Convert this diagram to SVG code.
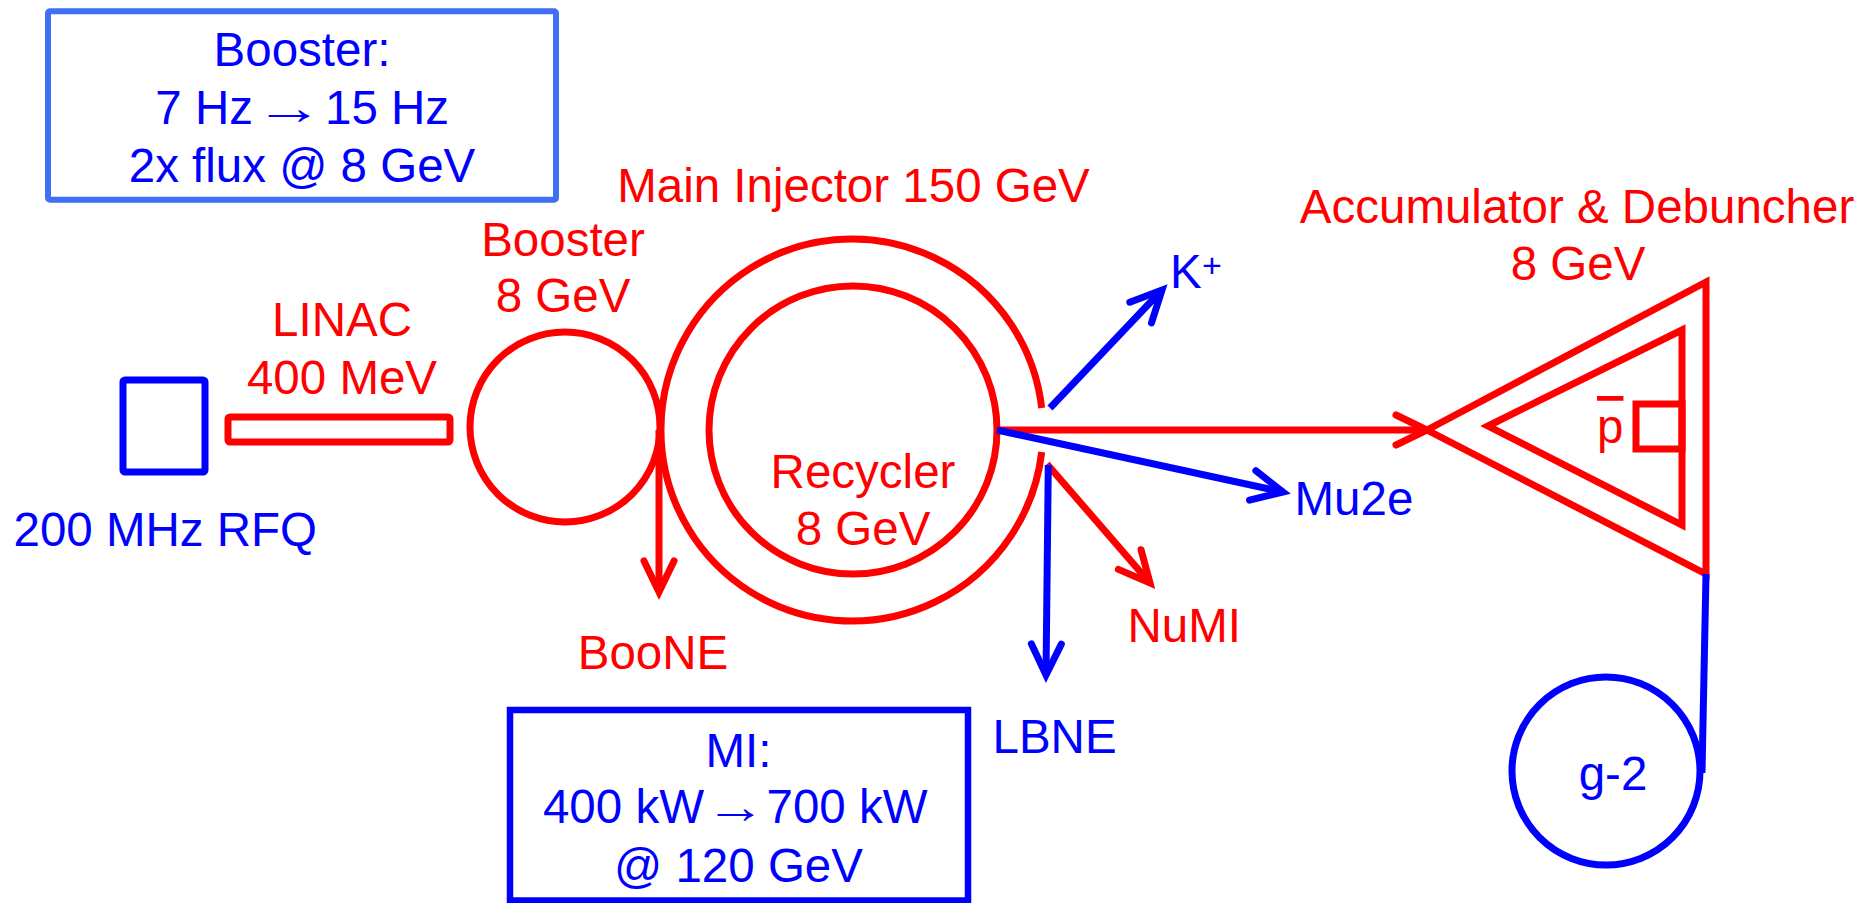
<svg xmlns="http://www.w3.org/2000/svg" width="1866" height="903" viewBox="0 0 1866 903">
<defs>
<style>
.r{stroke:#ff0000;fill:none;stroke-width:7}
.b{stroke:#0000ff;fill:none;stroke-width:7}
text{font-family:"Liberation Sans",Arial,sans-serif;font-size:47.5px}
.tr{fill:#ff0000}
.tb{fill:#0000ff}
.c{text-anchor:middle}
.e{text-anchor:end}
</style>
<marker id="ar" markerUnits="userSpaceOnUse" orient="auto" overflow="visible" refX="0" refY="0" markerWidth="40" markerHeight="40">
<path d="M-31,-15 L0,0 L-31,15" fill="none" stroke="#ff0000" stroke-width="7" stroke-linecap="round" stroke-linejoin="miter"/>
</marker>
<marker id="ab" markerUnits="userSpaceOnUse" orient="auto" overflow="visible" refX="0" refY="0" markerWidth="40" markerHeight="40">
<path d="M-31,-15 L0,0 L-31,15" fill="none" stroke="#0000ff" stroke-width="7" stroke-linecap="round" stroke-linejoin="miter"/>
</marker>
</defs>
<rect width="1866" height="903" fill="#ffffff"/>

<g id="booster-note">
<rect x="48" y="11.3" width="508" height="188.5" fill="none" stroke="#3f6ff4" stroke-width="6" rx="2"/>
<text class="tb c" x="302" y="66">Booster:</text>
<text class="tb e" x="253" y="124">7 Hz</text>
<text class="tb c" transform="translate(289,123.5) scale(1.45,1)">→</text>
<text class="tb" x="325" y="124">15 Hz</text>
<text class="tb c" x="302" y="182">2x flux @ 8 GeV</text>
</g>

<g id="rfq">
<rect class="b" x="123" y="380" width="82" height="92" rx="2"/>
<text class="tb" x="13.5" y="546">200 MHz RFQ</text>
</g>

<g id="linac">
<rect class="r" x="228" y="417" width="222" height="25" rx="2" stroke-width="6"/>
<text class="tr c" x="342" y="336">LINAC</text>
<text class="tr c" x="342" y="394">400 MeV</text>
</g>

<g id="booster">
<circle class="r" cx="565" cy="427" r="95"/>
<text class="tr c" x="563" y="256">Booster</text>
<text class="tr c" x="563" y="312">8 GeV</text>
</g>

<g id="main-injector">
<path class="r" d="M1041.7,452 A191,191 0 1 1 1041.7,408"/>
<text class="tr c" x="853.5" y="201.5">Main Injector 150 GeV</text>
</g>

<g id="recycler">
<circle class="r" cx="853" cy="430" r="144"/>
<text class="tr c" x="863" y="488">Recycler</text>
<text class="tr c" x="863" y="545">8 GeV</text>
</g>

<g id="accumulator">
<polygon class="r" points="1427,430 1706,282 1706,574" stroke-width="8"/>
<polygon class="r" points="1488,426 1682,330 1682,525" stroke-width="8"/>
<rect class="r" x="1636" y="404" width="46" height="45" stroke-width="8"/>
<text class="tr" x="1597" y="443" text-decoration="overline">p</text>
<text class="tr c" x="1577" y="223">Accumulator &amp; Debuncher</text>
<text class="tr c" x="1578" y="280">8 GeV</text>
</g>

<g id="g-2">
<circle class="b" cx="1606" cy="771" r="94"/>
<text class="tb c" x="1613" y="789.5" font-size="44">g-2</text>
</g>

<g id="kplus"><text class="tb" x="1170" y="288">K<tspan font-size="34" x="1202" y="277">+</tspan></text></g>
<g id="mu2e"><text class="tb" x="1294.5" y="515" font-size="46">Mu2e</text></g>
<g id="numi"><text class="tr" x="1127.5" y="642">NuMI</text></g>
<g id="lbne"><text class="tb" x="992.5" y="753">LBNE</text></g>
<g id="boone"><text class="tr c" x="653" y="669">BooNE</text></g>

<g id="mi-note">
<rect x="510" y="710" width="458" height="190.5" fill="none" stroke="#0000ff" stroke-width="6.5"/>
<text class="tb c" x="738.5" y="767">MI:</text>
<text class="tb e" x="704" y="823">400 kW</text>
<text class="tb c" transform="translate(735.5,822.5) scale(1.28,1)">→</text>
<text class="tb" x="766.5" y="823">700 kW</text>
<text class="tb c" x="738.5" y="882">@ 120 GeV</text>
</g>

<g id="connectors">
<line class="r" x1="659" y1="430" x2="659" y2="592" marker-end="url(#ar)"/>
<line class="r" x1="997" y1="430" x2="1427" y2="430" marker-end="url(#ar)"/>
<line class="b" x1="1050" y1="408" x2="1162" y2="290" marker-end="url(#ab)"/>
<line class="b" x1="997" y1="430" x2="1283" y2="492" marker-end="url(#ab)"/>
<line class="r" x1="1047" y1="464" x2="1150" y2="583" marker-end="url(#ar)"/>
<line class="b" x1="1048.3" y1="465" x2="1046" y2="675" marker-end="url(#ab)"/>
<line class="b" x1="1706" y1="574" x2="1702" y2="773" stroke-width="7.5"/>
</g>
</svg>
